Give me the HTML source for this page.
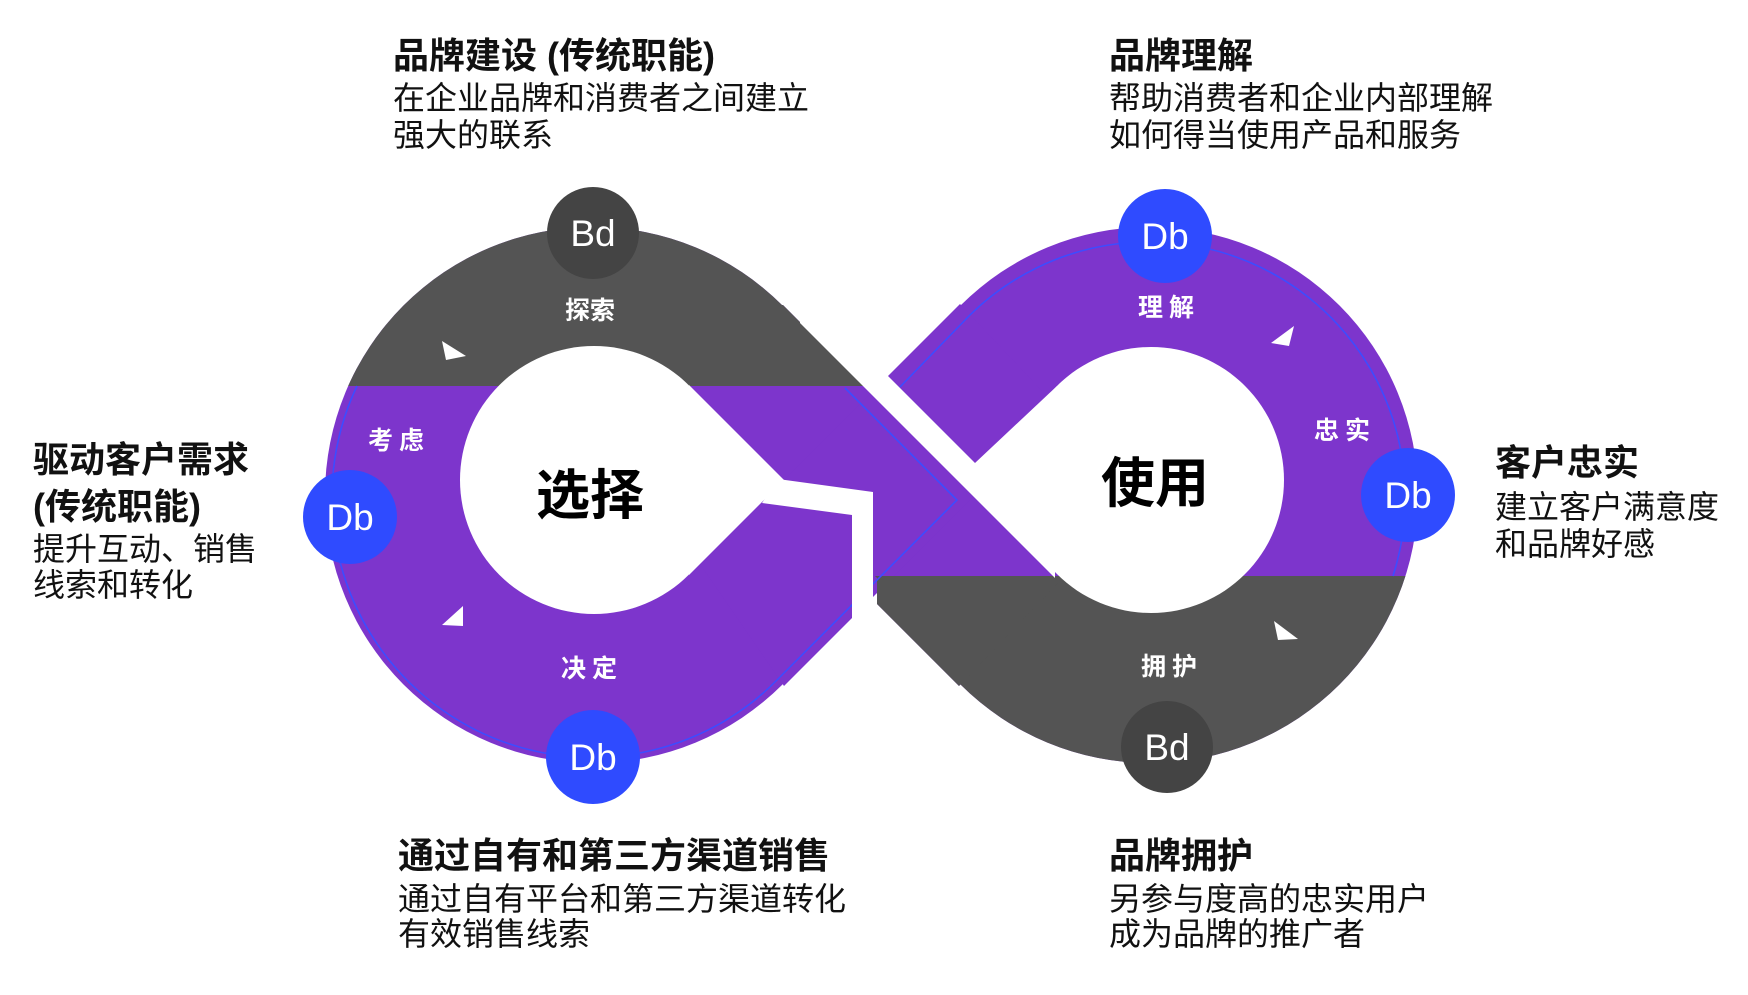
<!DOCTYPE html>
<html><head><meta charset="utf-8"><style>
html,body{margin:0;padding:0;background:#fff;}
body{width:1748px;height:995px;position:relative;overflow:hidden;font-family:"Liberation Sans","Noto Sans CJK SC",sans-serif;}
.t{position:absolute;white-space:nowrap;color:#111;line-height:1;}
.h{font-size:36px;font-weight:bold;}
.b{font-size:32px;}
svg{position:absolute;left:0;top:0;}
</style></head><body>
<svg width="1748" height="995" viewBox="0 0 1748 995">
<defs>
<clipPath id="cTop"><rect x="0" y="0" width="870" height="386"/></clipPath>
<clipPath id="cBot"><rect x="870" y="576" width="878" height="419"/></clipPath>
<g id="shapeA">
<circle cx="593" cy="495" r="268"/>
<circle cx="1150" cy="495" r="268"/>
<polygon points="783,305 1059,582 959,686 877,604 877,578 689,390 650,390 650,305"/>
</g>
</defs>
<g fill="#7d35cc">
<use href="#shapeA"/>
<polygon points="700,564 960,304 1060,410 784,686"/>
</g>
<g fill="#545454">
<use href="#shapeA" clip-path="url(#cTop)"/>
<use href="#shapeA" clip-path="url(#cBot)"/>
</g>
<g fill="none" stroke="#3d4cff" stroke-width="1.6">
<path d="M357,386 A260 260 0 0 0 777,680 L957,500 L845,388"/>
<path d="M900,387 L969,316 A256 256 0 0 1 1393,576"/>
</g>
<g fill="#fff">
<circle cx="594" cy="480" r="134"/>
<polygon points="689,385 784,480 689,575"/>
<circle cx="1151" cy="480" r="133"/>
<polygon points="1057,386 975,463 975,498 1055,578"/>
<polygon points="800,323 975,498 975,463 800,288"/>
<polygon points="778,479 873,492 873,640 852,640 852,515 762,503"/>
<polygon points="442,341 466,356 446,360"/>
<polygon points="442,625 463,606 463,626"/>
<polygon points="1271,343 1294,326 1289,346"/>
<polygon points="1274,621 1298,639 1278,640"/>
</g>
<circle cx="593" cy="233" r="46" fill="#444"/>
<circle cx="1167" cy="747" r="46" fill="#444"/>
<g fill="#2f4bff">
<circle cx="350" cy="517" r="47"/>
<circle cx="593" cy="757" r="47"/>
<circle cx="1165" cy="236" r="47"/>
<circle cx="1408" cy="495" r="47"/>
</g>
<g fill="#fff" font-family="Liberation Sans, sans-serif" font-size="37" text-anchor="middle">
<text x="593" y="246">Bd</text>
<text x="1167" y="760">Bd</text>
<text x="350" y="530">Db</text>
<text x="593" y="770">Db</text>
<text x="1165" y="249">Db</text>
<text x="1408" y="508">Db</text>
</g>
<g fill="#fff" font-family="Liberation Sans, Noto Sans CJK SC, sans-serif" font-size="25" font-weight="bold" text-anchor="middle">
<text x="590" y="319">探索</text>
<text x="399" y="449" letter-spacing="6">考虑</text>
<text x="592" y="677" letter-spacing="6">决定</text>
<text x="1169" y="316" letter-spacing="6">理解</text>
<text x="1345" y="439" letter-spacing="6">忠实</text>
<text x="1172" y="675" letter-spacing="6">拥护</text>
</g>
<g fill="#000" font-family="Liberation Sans, Noto Sans CJK SC, sans-serif" font-size="54" font-weight="bold" text-anchor="middle">
<text x="590" y="514">选择</text>
<text x="1155" y="502">使用</text>
</g>
</svg>

<div class="t h" style="left:393px;top:38px;">品牌建设 (传统职能)</div>
<div class="t b" style="left:393px;top:82px;">在企业品牌和消费者之间建立</div>
<div class="t b" style="left:393px;top:119px;">强大的联系</div>

<div class="t h" style="left:1109px;top:38px;">品牌理解</div>
<div class="t b" style="left:1109px;top:82px;">帮助消费者和企业内部理解</div>
<div class="t b" style="left:1109px;top:119px;">如何得当使用产品和服务</div>

<div class="t h" style="left:33px;top:442px;">驱动客户需求</div>
<div class="t h" style="left:33px;top:489px;">(传统职能)</div>
<div class="t b" style="left:33px;top:533px;">提升互动、销售</div>
<div class="t b" style="left:33px;top:569px;">线索和转化</div>

<div class="t h" style="left:1495px;top:445px;">客户忠实</div>
<div class="t b" style="left:1495px;top:491px;">建立客户满意度</div>
<div class="t b" style="left:1495px;top:528px;">和品牌好感</div>

<div class="t h" style="left:398px;top:838px;">通过自有和第三方渠道销售</div>
<div class="t b" style="left:398px;top:883px;">通过自有平台和第三方渠道转化</div>
<div class="t b" style="left:398px;top:918px;">有效销售线索</div>

<div class="t h" style="left:1109px;top:838px;">品牌拥护</div>
<div class="t b" style="left:1109px;top:883px;">另参与度高的忠实用户</div>
<div class="t b" style="left:1109px;top:918px;">成为品牌的推广者</div>
</body></html>
